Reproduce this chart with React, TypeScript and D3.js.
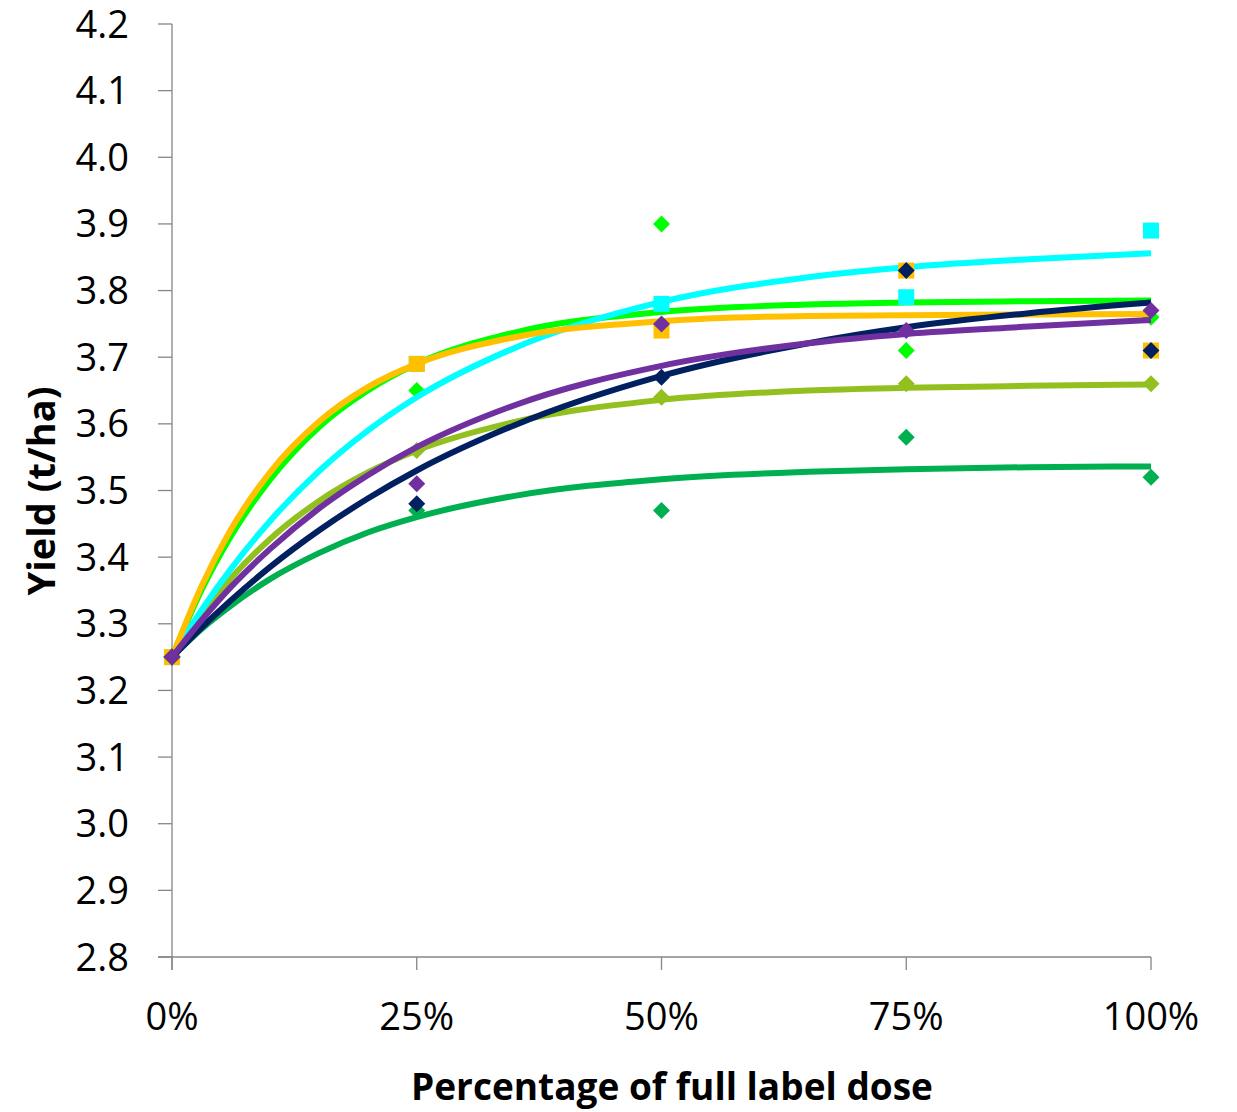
import React from "react";
import * as d3 from "d3";

const doseTicks = [0, 0.25, 0.5, 0.75, 1];
const doseLabels = ["0%", "25%", "50%", "75%", "100%"];
const yieldTicks = [2.8, 2.9, 3.0, 3.1, 3.2, 3.3, 3.4, 3.5, 3.6, 3.7, 3.8, 3.9, 4.0, 4.1, 4.2];

// observed points at 0, 25, 50, 75, 100 %
const obsDoses = [0, 0.25, 0.5, 0.75, 1];
const darkGreenObs = [3.25, 3.47, 3.47, 3.58, 3.52];
const yellowGreenObs = [3.25, 3.56, 3.64, 3.66, 3.66];
const brightGreenObs = [3.25, 3.65, 3.9, 3.71, 3.76];
const cyanObs = [3.25, 3.69, 3.78, 3.79, 3.89];
const orangeObs = [3.25, 3.69, 3.74, 3.83, 3.71];
const navyObs = [3.25, 3.48, 3.67, 3.83, 3.71];
const purpleObs = [3.25, 3.51, 3.75, 3.74, 3.77];

// fitted trend curves
const fitDoses = [0, 0.03, 0.06, 0.1, 0.15, 0.2, 0.25, 0.35, 0.5, 0.65, 0.75, 0.875, 1];
const darkGreenFit = [3.25, 3.292, 3.327, 3.367, 3.406, 3.437, 3.46, 3.492, 3.517, 3.528, 3.532, 3.535, 3.536];
const yellowGreenFit = [3.25, 3.314, 3.368, 3.427, 3.484, 3.527, 3.56, 3.603, 3.636, 3.65, 3.654, 3.657, 3.659];
const brightGreenFit = [3.25, 3.35, 3.431, 3.516, 3.595, 3.65, 3.69, 3.737, 3.768, 3.779, 3.782, 3.784, 3.785];
const cyanFit = [3.25, 3.32, 3.382, 3.454, 3.529, 3.59, 3.64, 3.714, 3.783, 3.82, 3.835, 3.847, 3.856];
const orangeFit = [3.25, 3.356, 3.441, 3.527, 3.603, 3.655, 3.69, 3.73, 3.754, 3.762, 3.763, 3.764, 3.765];
const navyFit = [3.25, 3.294, 3.335, 3.385, 3.44, 3.488, 3.53, 3.598, 3.672, 3.721, 3.745, 3.766, 3.782];
const purpleFit = [3.25, 3.305, 3.355, 3.412, 3.473, 3.523, 3.565, 3.628, 3.687, 3.721, 3.735, 3.746, 3.756];

const seriesList = [
  { name: "darkGreen", color: "#00b050", marker: "diamond", obs: darkGreenObs, fit: darkGreenFit },
  { name: "yellowGreen", color: "#92c01f", marker: "diamond", obs: yellowGreenObs, fit: yellowGreenFit },
  { name: "brightGreen", color: "#00ff00", marker: "diamond", obs: brightGreenObs, fit: brightGreenFit },
  { name: "cyan", color: "#00ffff", marker: "square", obs: cyanObs, fit: cyanFit },
  { name: "orange", color: "#ffc000", marker: "square", obs: orangeObs, fit: orangeFit },
  { name: "navy", color: "#002060", marker: "diamond", obs: navyObs, fit: navyFit },
  { name: "purple", color: "#7030a0", marker: "diamond", obs: purpleObs, fit: purpleFit },
];

const W = 1237;
const H = 1112;
const FONT = "'Open Sans', 'DejaVu Sans', sans-serif";
const AXIS = "#868686";

export default function App() {
  const x = d3.scaleLinear().domain([0, 1]).range([172, 1151]);
  const y = d3.scaleLinear().domain([2.8, 4.2]).range([957, 24]);

  const line = d3
    .line<number>()
    .x((_, i) => x(fitDoses[i]))
    .y((d) => y(d))
    .curve(d3.curveMonotoneX);

  const diamond = (cx: number, cy: number, r: number) =>
    `M${cx},${cy - r}L${cx + r},${cy}L${cx},${cy + r}L${cx - r},${cy}Z`;

  return (
    <svg
      width={W}
      height={H}
      style={{ position: "absolute", left: 0, top: 0, background: "#fff" }}
    >
      <rect width={W} height={H} fill="#fff" />
      {/* axes */}
      <line x1={x(0)} x2={x(0)} y1={y(4.2)} y2={y(2.8) + 13} stroke={AXIS} strokeWidth={1.3} />
      <line x1={x(0) - 14} x2={x(1)} y1={y(2.8)} y2={y(2.8)} stroke={AXIS} strokeWidth={1.3} />
      {yieldTicks.map((t) => (
        <g key={"y" + t}>
          <line x1={x(0) - 14} x2={x(0)} y1={y(t)} y2={y(t)} stroke={AXIS} strokeWidth={1.3} />
          <text
            x={129}
            y={y(t) + 13.5}
            textAnchor="end"
            fontFamily={FONT}
            fontSize={38}
            fill="#000"
          >
            {t.toFixed(1)}
          </text>
        </g>
      ))}
      {doseTicks.map((t, i) => (
        <g key={"x" + t}>
          <line x1={x(t)} x2={x(t)} y1={y(2.8)} y2={y(2.8) + 13} stroke={AXIS} strokeWidth={1.3} />
          <text
            x={x(t)}
            y={1030}
            textAnchor="middle"
            fontFamily={FONT}
            fontSize={38}
            fill="#000"
          >
            {doseLabels[i]}
          </text>
        </g>
      ))}
      {/* axis titles */}
      <text
        x={672}
        y={1100}
        textAnchor="middle"
        fontFamily={FONT}
        fontWeight="bold"
        fontSize={37}
        fill="#000"
      >
        Percentage of full label dose
      </text>
      <text
        transform={`translate(55,491) rotate(-90)`}
        textAnchor="middle"
        fontFamily={FONT}
        fontWeight="bold"
        fontSize={38}
        fill="#000"
      >
        Yield (t/ha)
      </text>
      {/* series */}
      {seriesList.map((s) => (
        <g key={s.name}>
          <path
            d={line(s.fit) || ""}
            fill="none"
            stroke={s.color}
            strokeWidth={6}
            strokeLinecap="butt"
          />
          {s.obs.map((v, i) =>
            s.marker === "square" ? (
              <rect
                key={i}
                x={x(obsDoses[i]) - 8}
                y={y(v) - 8}
                width={16}
                height={16}
                fill={s.color}
              />
            ) : (
              <path key={i} d={diamond(x(obsDoses[i]), y(v), 8.5)} fill={s.color} />
            )
          )}
        </g>
      ))}
    </svg>
  );
}
